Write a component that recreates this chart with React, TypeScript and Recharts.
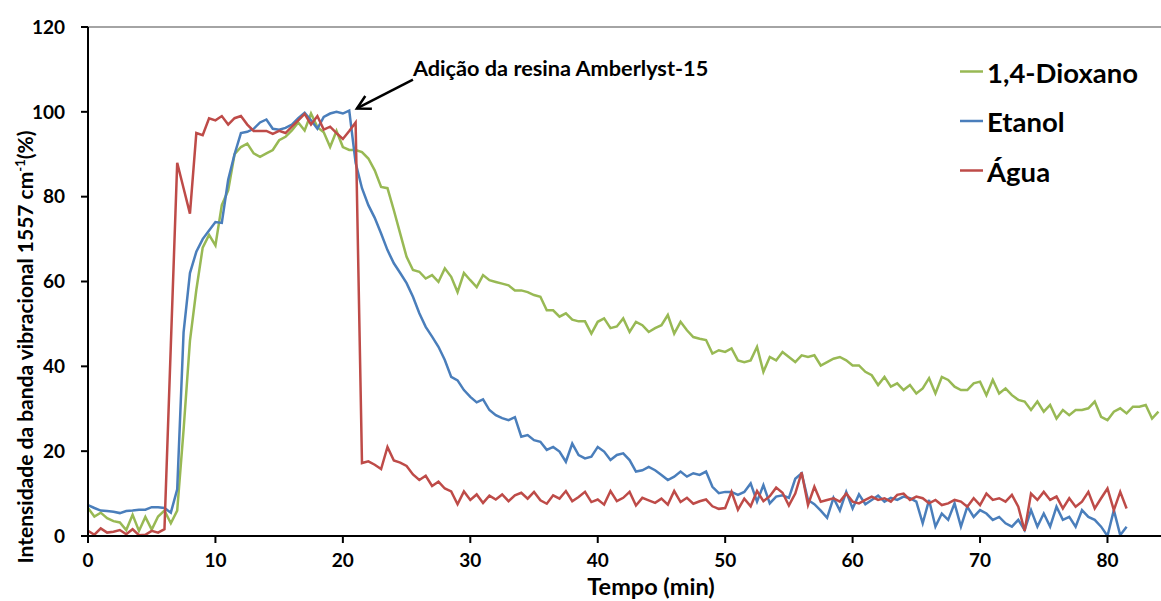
import { LineChart, Line, XAxis, YAxis, ReferenceLine, Legend, Label } from "recharts";

const FONT = "Lato, 'Open Sans', sans-serif";

// tempo (min), amostrado a cada 0,5 min
const time = [
  0, 0.5, 1, 1.5, 2, 2.5, 3, 3.5, 4, 4.5,
  5, 5.5, 6, 6.5, 7, 7.5, 8, 8.5, 9, 9.5,
  10, 10.5, 11, 11.5, 12, 12.5, 13, 13.5, 14, 14.5,
  15, 15.5, 16, 16.5, 17, 17.5, 18, 18.5, 19, 19.5,
  20, 20.5, 21, 21.5, 22, 22.5, 23, 23.5, 24, 24.5,
  25, 25.5, 26, 26.5, 27, 27.5, 28, 28.5, 29, 29.5,
  30, 30.5, 31, 31.5, 32, 32.5, 33, 33.5, 34, 34.5,
  35, 35.5, 36, 36.5, 37, 37.5, 38, 38.5, 39, 39.5,
  40, 40.5, 41, 41.5, 42, 42.5, 43, 43.5, 44, 44.5,
  45, 45.5, 46, 46.5, 47, 47.5, 48, 48.5, 49, 49.5,
  50, 50.5, 51, 51.5, 52, 52.5, 53, 53.5, 54, 54.5,
  55, 55.5, 56, 56.5, 57, 57.5, 58, 58.5, 59, 59.5,
  60, 60.5, 61, 61.5, 62, 62.5, 63, 63.5, 64, 64.5,
  65, 65.5, 66, 66.5, 67, 67.5, 68, 68.5, 69, 69.5,
  70, 70.5, 71, 71.5, 72, 72.5, 73, 73.5, 74, 74.5,
  75, 75.5, 76, 76.5, 77, 77.5, 78, 78.5, 79, 79.5,
  80, 80.5, 81, 81.5, 82, 82.5, 83, 83.5, 84,
];

const dioxano = [
  6.6, 4.6, 5.5, 4.2, 3.5, 3.2, 1.4, 5.0, 1.2, 4.5,
  1.5, 4.6, 6.0, 3.0, 6.0, 25, 46, 58, 68, 71,
  68.5, 78, 81.5, 90, 91.7, 92.5, 90.2, 89.4, 90.2, 91,
  93.3, 94.1, 95.6, 97.5, 95.6, 99.6, 96.4, 95.2, 91.7, 95.5,
  91.7, 91, 91, 90.5, 89, 86.2, 82.3, 82, 76.8, 71.3,
  65.8, 62.7, 62.3, 60.7, 61.5, 59.9, 63.1, 61.1, 57.5, 62,
  60.3, 58.7, 61.5, 60.3, 59.9, 59.5, 59.1, 57.9, 57.9, 57.5,
  56.8, 56.4, 53.2, 53.2, 51.7, 52.5, 51, 50.6, 50.6, 47.7,
  50.5, 51.3, 49, 49.4, 51.3, 48.1, 50.5, 49.7, 48.1, 49,
  49.7, 52.1, 47.7, 50.5, 48.5, 46.9, 46.5, 46.2, 43, 43.8,
  43.4, 44.2, 41.4, 41, 41.4, 44.6, 38.7, 42.2, 41.4, 43.4,
  42.2, 41, 42.6, 42.2, 42.6, 40.2, 41, 41.8, 42.2, 41.4,
  40.2, 40.2, 38.7, 37.9, 35.6, 37.5, 35.2, 36, 34.4, 35.6,
  33.6, 34.8, 37.2, 33.6, 37.5, 36.8, 35.2, 34.4, 34.4, 36,
  36.4, 33.2, 36.8, 33.6, 34.8, 33.2, 32.1, 31.7, 29.7, 31.7,
  29.3, 30.9, 27.7, 29.7, 28.5, 29.7, 29.7, 30.1, 31.7, 28.1,
  27.3, 29.3, 30.1, 28.9, 30.5, 30.5, 30.9, 27.7, 29.3,
];

const etanol = [
  7.3, 6.6, 6.0, 5.9, 5.7, 5.4, 5.9, 6.0, 6.2, 6.2,
  6.8, 6.8, 6.6, 5.5, 11, 48, 62, 67, 70, 72,
  74, 73.8, 84, 90, 95, 95.3, 96, 97.5, 98.2, 96,
  95.8, 96.2, 97, 98.5, 99.8, 98, 96, 98.8, 99.6, 100,
  99.6, 100.3, 88, 82, 78, 75, 71.3, 67.4, 64.3, 62,
  59.6, 56.4, 52.5, 49.3, 47, 44.6, 41.5, 37.5, 36.7, 34.4,
  32.8, 31.5, 32.2, 29.7, 28.5, 27.8, 27.3, 28, 23.4, 23.8,
  22.6, 22.2, 20.3, 21, 19.9, 17.5, 21.8, 19.1, 18.3, 18.7,
  21, 19.9, 17.9, 19.1, 19.5, 17.9, 15.2, 15.5, 16.3, 15.5,
  14.4, 13.2, 14, 15.2, 14, 14.8, 14.4, 15.2, 11.6, 10.1,
  10.4, 10.4, 9.7, 10.4, 12.4, 8.1, 12, 7.7, 9.3, 9.6,
  9, 13.5, 14.8, 8.5, 7.5, 6, 4.3, 9, 6, 10.4,
  6.5, 9.8, 7.5, 8.5, 9.5, 8.1, 9, 8.5, 9.3, 8.9,
  8.1, 3, 8.5, 2.2, 5.3, 3.8, 7.7, 2.2, 6.9, 4.5,
  6.1, 5.3, 3.8, 4.5, 3, 2.2, 3.8, 1.4, 6.1, 2.2,
  5.3, 2.2, 6.9, 3.8, 4.5, 2.2, 6.1, 4.5, 3.8, 2.2,
  0, 6.1, 0.2, 2.2,
];

const agua = [
  1.2, 0.3, 1.8, 0.8, 1.0, 1.4, 0.4, 1.6, 0.2, 0.3,
  1.2, 0.8, 1.6, 45, 88, 82, 76, 95, 94.5, 98.5,
  98, 99, 97, 98.5, 99, 97, 95.5, 95.5, 95.5, 94.8,
  95.5, 95, 96.5, 98, 99.5, 97, 99, 95.8, 96.5, 95,
  93.6, 95.5, 97.5, 17.2, 17.6, 16.8, 15.8, 21, 17.8, 17.3,
  16.5, 14.5, 13.2, 14.2, 11.8, 12.8, 11.2, 10.5, 7.5, 10.5,
  8.5, 9.8, 7.8, 9.5, 8.6, 9.8, 8.2, 9.6, 10.2, 8.8,
  10.4, 8.4, 7.6, 9.6, 8.8, 10.6, 8.2, 9.2, 10.4, 8.0,
  8.6, 7.4, 10.6, 8.2, 9.0, 10.4, 7.2, 9.0, 8.4, 7.8,
  8.8, 7.4, 10.6, 8.0, 9.0, 7.6, 8.2, 8.6, 7.0, 6.4,
  6.6, 10.4, 6.2, 8.8, 7.0, 10.6, 8.2, 9.4, 11.4, 10.2,
  7.2, 10.0, 15.0, 7.3, 11.6, 8.1, 8.5, 8.9, 8.1, 10,
  8.1, 7.7, 8.5, 9.3, 8.5, 8.9, 8.1, 9.7, 10, 8.5,
  9.3, 8.9, 7.7, 8.5, 7.3, 7.7, 8.5, 8.1, 6.9, 8.9,
  7.3, 10, 8.5, 8.9, 8.1, 9.7, 6.9, 1.2, 10.0, 8.5,
  10.4, 8.5, 9.3, 6.5, 8.9, 6.9, 8.1, 10.4, 6.5, 8.9,
  11.2, 6.1, 10.4, 6.5,
];

const seriesNames = ["1,4-Dioxano", "Etanol", "Água"];
const seriesColors = ["#98B954", "#4A7EBB", "#BE4B48"];

const xTicks = [0, 10, 20, 30, 40, 50, 60, 70, 80];
const yTicks = [0, 20, 40, 60, 80, 100, 120];

// seta da anotação: início (texto) e ponta, em coordenadas dos dados
const arrowFrom = { x: 25.5, y: 107.6 };
const arrowTo = { x: 21.1, y: 100.8 };

const rows = time.map((t, i) => ({
  t,
  dioxano: dioxano[i] ?? null,
  etanol: etanol[i] ?? null,
  agua: agua[i] ?? null,
}));

const tickStyle = { fill: "#000", fontSize: 19, fontWeight: 700, fontFamily: FONT };

function ArrowShape(props: any) {
  const { x1, y1, x2, y2 } = props;
  const ang = Math.atan2(y2 - y1, x2 - x1);
  const len = 15;
  const spread = 0.5;
  const a = `${x2 - len * Math.cos(ang - spread)},${y2 - len * Math.sin(ang - spread)}`;
  const b = `${x2 - len * Math.cos(ang + spread)},${y2 - len * Math.sin(ang + spread)}`;
  return (
    <g>
      <line x1={x1} y1={y1} x2={x2} y2={y2} stroke="#000" strokeWidth={2.5} />
      <polyline points={`${a} ${x2},${y2} ${b}`} fill="none" stroke="#000" strokeWidth={2.5} />
      <text x={x1} y={y1 - 4} fontFamily={FONT} fontWeight={700} fontSize={21.7} fill="#000">
        Adição da resina Amberlyst-15
      </text>
    </g>
  );
}

function LegendBox(props: any) {
  const payload = props.payload || [];
  return (
    <svg width={211} height={160}>
      {payload.map((p: any, i: number) => (
        <g key={p.value}>
          <line x1={10} x2={33} y1={31.5 + i * 49.5} y2={31.5 + i * 49.5} stroke={p.color} strokeWidth={2.5} />
          <text x={37} y={42.5 + i * 49.5} fontFamily={FONT} fontWeight={700} fontSize={27.5} fill="#000">
            {p.value}
          </text>
        </g>
      ))}
    </svg>
  );
}

function YTitle() {
  return (
    <text transform="translate(33,347) rotate(-90)" textAnchor="middle" fontFamily={FONT} fontWeight={700} fontSize={21} fill="#000">
      Intensidade da banda vibracional 1557 cm
      <tspan dy={-8} fontSize={13}>-1</tspan>
      <tspan dy={8}>(%)</tspan>
    </text>
  );
}

function XTitle() {
  return (
    <text x={651} y={595} textAnchor="middle" fontFamily={FONT} fontWeight={700} fontSize={23.5} fill="#000">
      Tempo (min)
    </text>
  );
}

export default function App() {
  const keys = ["dioxano", "etanol", "agua"];
  return (
    <div style={{ width: 1161, height: 601, background: "#fff" }}>
      <style>{"body{margin:0}"}</style>
      <LineChart width={1161} height={601} data={rows} margin={{ top: 27, right: 0, left: 0, bottom: 0 }}>
        <XAxis
          dataKey="t"
          type="number"
          domain={[0, 84.2]}
          allowDataOverflow
          ticks={xTicks}
          height={65}
          tick={tickStyle}
          tickSize={7}
          tickMargin={11}
          axisLine={{ stroke: "#000", strokeWidth: 2 }}
          tickLine={{ stroke: "#000", strokeWidth: 2 }}
        >
          <Label content={<XTitle />} />
        </XAxis>
        <YAxis
          type="number"
          domain={[0, 120]}
          allowDataOverflow
          ticks={yTicks}
          width={88}
          tick={tickStyle}
          tickSize={7}
          tickMargin={16}
          axisLine={{ stroke: "#000", strokeWidth: 2 }}
          tickLine={{ stroke: "#000", strokeWidth: 2 }}
        >
          <Label content={<YTitle />} />
        </YAxis>
        <ReferenceLine y={120} stroke="#868686" strokeWidth={1.5} />
        {keys.map((k, i) => (
          <Line
            key={k}
            dataKey={k}
            name={seriesNames[i]}
            type="linear"
            stroke={seriesColors[i]}
            strokeWidth={2.5}
            dot={false}
            isAnimationActive={false}
          />
        ))}
        <ReferenceLine segment={[arrowFrom, arrowTo]} shape={<ArrowShape />} ifOverflow="visible" />
        <Legend
          layout="vertical"
          align="center"
          verticalAlign="middle"
          wrapperStyle={{ top: 40, left: 950, width: 211 }}
          content={<LegendBox />}
        />
      </LineChart>
    </div>
  );
}
